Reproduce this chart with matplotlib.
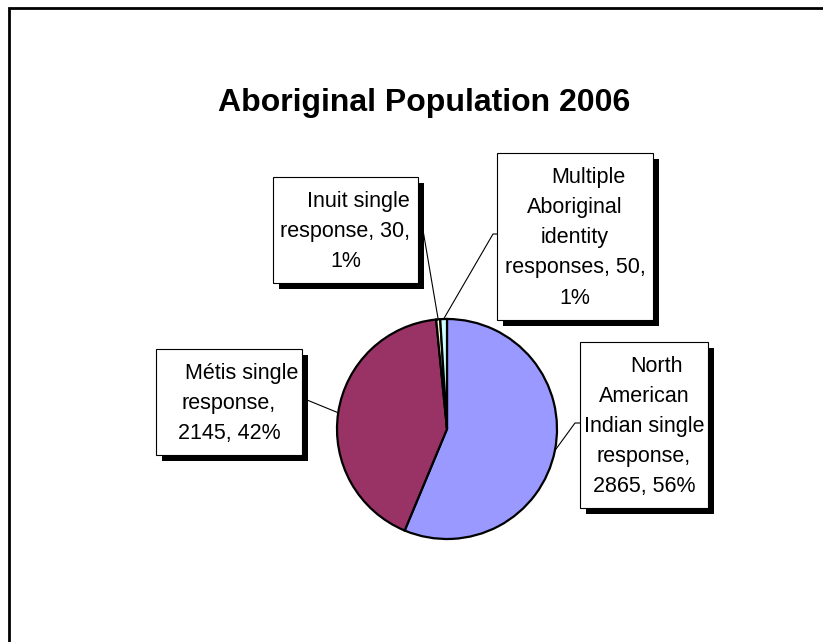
import math
import textwrap
import matplotlib
matplotlib.use("Agg")
import matplotlib.pyplot as plt
from matplotlib.patches import Rectangle

plt.rcParams['font.family'] = ['Liberation Sans', 'DejaVu Sans']

# ---- data ----
title = "Aboriginal Population 2006"
categories = ["North American Indian single response",
              "Métis single response",
              "Inuit single response",
              "Multiple Aboriginal identity responses"]
values = [2865, 2145, 30, 50]
colors = ["#9999FF", "#993366", "#FFFFCC", "#CCFFFF"]
wrap_widths = [13, 13, 13, 14]

# ---- layout (pixel coords, y from top) ----
W, H = 823, 642
pie_center = (447, 429)
pie_radius = 110
# label boxes: (left, top, right, bottom)
boxes = [(580, 342, 708, 508),
         (156, 349, 302, 455),
         (273, 177, 418, 283),
         (497, 153, 653, 320)]
# leader line points from pie edge outwards (after the pie-edge point)
leaders = [[(575, 423), (580, 423)],
           [(307, 400)],
           [(423, 230)],
           [(493, 234), (497, 234)]]
line_step = 30
first_line_shift = 13

fig = plt.figure(figsize=(W / 100, H / 100), dpi=100)
ax = fig.add_axes([0, 0, 1, 1])

def Y(y):
    return H - y

total = sum(values)
wedges, _ = ax.pie(values, colors=colors, startangle=90, counterclock=False,
                   center=(pie_center[0], Y(pie_center[1])), radius=pie_radius,
                   wedgeprops=dict(edgecolor='black', linewidth=1.6))

for i, w in enumerate(wedges):
    mid = math.radians((w.theta1 + w.theta2) / 2)
    sx = pie_center[0] + pie_radius * math.cos(mid)
    sy = Y(pie_center[1]) + pie_radius * math.sin(mid)
    xs = [sx] + [p[0] for p in leaders[i]]
    ys = [sy] + [Y(p[1]) for p in leaders[i]]
    ax.plot(xs, ys, color='black', lw=0.8, zorder=3)

for i, (l, t, r, b) in enumerate(boxes):
    pct = round(values[i] / total * 100)
    lines = textwrap.wrap(f"{categories[i]}, {values[i]}, {pct}%", wrap_widths[i])
    ax.add_patch(Rectangle((l + 6, Y(b + 6)), r - l, b - t, facecolor='black',
                           edgecolor='none', zorder=4))
    ax.add_patch(Rectangle((l, Y(b)), r - l, b - t, facecolor='white',
                           edgecolor='black', lw=0.8, zorder=5))
    cx = (l + r) / 2
    cy = (t + b) / 2 - 1
    n = len(lines)
    for k, line in enumerate(lines):
        x = cx + (first_line_shift if k == 0 else 0)
        y = cy + (k - (n - 1) / 2) * line_step
        ax.text(x, Y(y), line, ha='center', va='center_baseline',
                fontsize=15.5, zorder=6)

ax.text(424, Y(103), title, ha='center', va='center', fontsize=23,
        fontweight='bold')

# outer chart border (top and left visible)
ax.plot([9, 9, W + 5], [Y(H + 5), Y(8), Y(8)], color='black', lw=2, zorder=7,
        solid_joinstyle='miter')

ax.set_xlim(0, W)
ax.set_ylim(0, H)
ax.set_aspect('equal')
ax.axis('off')

fig.savefig("out.png", dpi=100)
